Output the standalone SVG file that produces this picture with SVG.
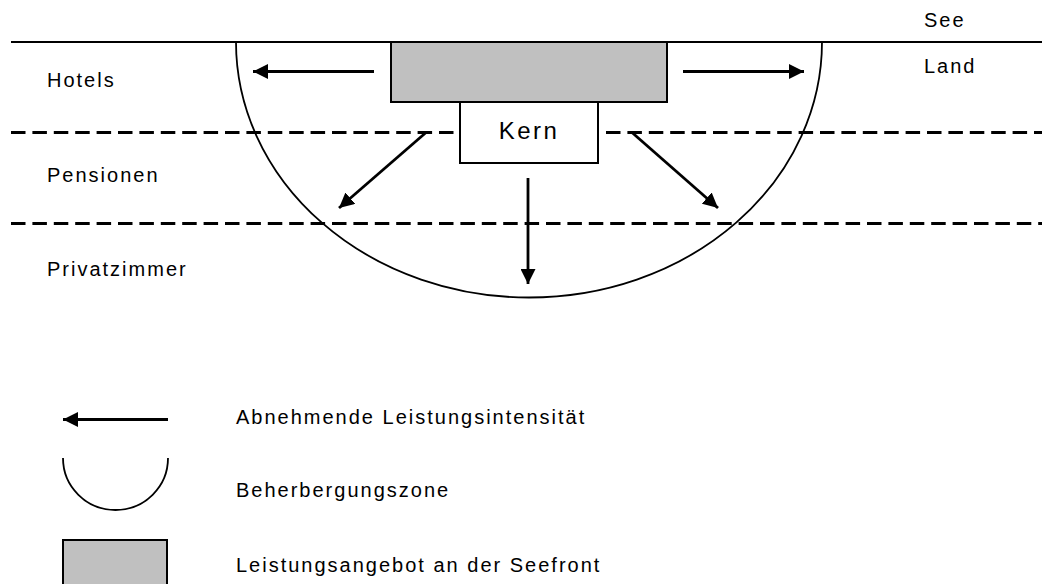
<svg xmlns="http://www.w3.org/2000/svg" width="1042" height="584" viewBox="0 0 1042 584">
<defs>
<style>
.lbl{font-family:"Liberation Sans",Arial,sans-serif;font-size:20px;letter-spacing:2px;fill:#000}
.kern{font-family:"Liberation Sans",Arial,sans-serif;font-size:24px;letter-spacing:2.4px;fill:#000}
.dash{stroke:#000;stroke-width:3.2;stroke-dasharray:14.5 6.9;fill:none}
.arr{stroke:#000;stroke-width:2.8;fill:none;marker-end:url(#ah)}
.gray{fill:#c0c0c0;stroke:#000;stroke-width:2}
</style>
<marker id="ah" markerUnits="userSpaceOnUse" markerWidth="16" markerHeight="15" refX="15" refY="7.5" orient="auto" viewBox="0 0 16 15">
<path d="M0,0 L15,7.5 L0,15 Z" fill="#000"/>
</marker>
</defs>
<rect width="1042" height="584" fill="#fff"/>
<g id="shoreline">
<line x1="11" y1="42" x2="1042" y2="42" stroke="#000" stroke-width="2"/>
</g>
<g id="zone-lines">
<line class="dash" x1="11" y1="132.5" x2="460" y2="132.5"/>
<line class="dash" x1="606" y1="132.5" x2="1042" y2="132.5"/>
<line class="dash" x1="11" y1="223.5" x2="1042" y2="223.5"/>
</g>
<g id="beherbergungszone">
<path d="M236,42 A293,255.5 0 0 0 822,42" fill="none" stroke="#000" stroke-width="1.8"/>
</g>
<g id="seefront">
<rect class="gray" x="391" y="42" width="276" height="60"/>
</g>
<g id="kern">
<rect x="460" y="102" width="138" height="61" fill="#fff" stroke="#000" stroke-width="2"/>
<text class="kern" x="529" y="138.5" text-anchor="middle">Kern</text>
</g>
<g id="connectors">
<line class="arr" x1="374" y1="71.5" x2="253" y2="71.5"/>
<line class="arr" x1="683" y1="71.5" x2="804" y2="71.5"/>
<line class="arr" x1="426" y1="132.5" x2="339" y2="208"/>
<line class="arr" x1="632" y1="132.5" x2="718" y2="208"/>
<line class="arr" x1="528" y1="178" x2="528" y2="284"/>
</g>
<g id="labels">
<text class="lbl" x="924" y="27">See</text>
<text class="lbl" x="924" y="73">Land</text>
<text class="lbl" x="47" y="87">Hotels</text>
<text class="lbl" x="47" y="182">Pensionen</text>
<text class="lbl" x="47" y="276">Privatzimmer</text>
</g>
<g id="legend">
<line class="arr" x1="168" y1="419.5" x2="63" y2="419.5"/>
<path d="M63,458 A52.5,52 0 0 0 168,458" fill="none" stroke="#000" stroke-width="1.8"/>
<rect class="gray" x="63" y="540" width="104" height="60"/>
<text class="lbl" x="236" y="424">Abnehmende Leistungsintensität</text>
<text class="lbl" x="236" y="497">Beherbergungszone</text>
<text class="lbl" x="236" y="572">Leistungsangebot an der Seefront</text>
</g>
</svg>
